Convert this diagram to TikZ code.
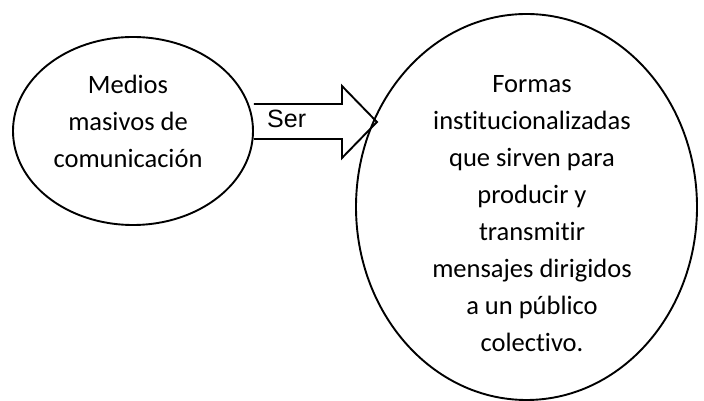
\documentclass[tikz,border=0pt]{standalone}
\usepackage{fontspec}
\setmainfont{Carlito}[RawFeature=-liga]
\newfontfamily\arialfont{Liberation Sans}
\usetikzlibrary{shapes.geometric}
\begin{document}
\begin{tikzpicture}[x=1pt,y=1pt,
    globo/.style={draw,ellipse,line width=1.9pt,inner sep=0pt},
    texto/.style={align=center,font=\fontsize{26.5}{37}\selectfont,inner sep=0pt},
    flecha/.style={draw,line width=1.9pt,line join=miter}]
    \useasboundingbox (0,0) rectangle (704,401);

    \node[globo,minimum width=240,minimum height=188] (medios) at (133,270) {};
    \node[globo,minimum width=341,minimum height=386] (formas) at (526.5,194) {};

    \node[texto] (mediostxt) at (128,280) {Medios\\masivos de\\comunicación};
    \node[texto] (formastxt) at (532,187) {Formas\\institucionalizadas\\que sirven para\\producir y\\transmitir\\mensajes dirigidos\\a un público\\colectivo.};

    \draw[flecha] (medios.east) ++(0,-8) -- ++(88,0) -- ++(0,-19) -- ++(35,36) -- ++(-35,36) -- ++(0,-18) -- ++(-88,0);
    \node[anchor=base west,inner sep=0pt,font=\arialfont\fontsize{25}{30}\selectfont] (ser) at (267,273) {Ser};
\end{tikzpicture}
\end{document}
